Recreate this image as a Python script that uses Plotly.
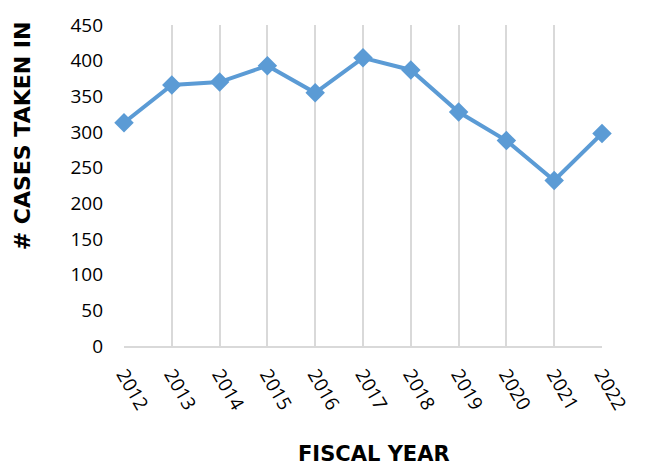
import plotly.graph_objects as go

# Cases taken in per fiscal year
years = ["2012", "2013", "2014", "2015", "2016", "2017", "2018", "2019", "2020", "2021", "2022"]
cases = [313, 366, 370, 393, 355, 404, 387, 328, 288, 232, 298]
y_ticks = [0, 50, 100, 150, 200, 250, 300, 350, 400, 450]

blue = "#5B9BD5"
grid = "#D9D9D9"
tick_font = "Open Sans"
title_font = "DejaVu Sans"

W, H = 652, 472
L, R, T, B = 124, 50, 20, 126
plot_w = W - L - R
plot_h = H - T - B

fig = go.Figure()
fig.add_trace(go.Scatter(
    x=list(range(len(years))),
    y=cases,
    mode="lines+markers",
    line=dict(color=blue, width=4),
    marker=dict(symbol="diamond", size=15, color=blue),
    cliponaxis=False,
    showlegend=False,
))

fig.update_layout(
    width=W, height=H,
    margin=dict(l=L, r=R, t=T, b=B),
    paper_bgcolor="white", plot_bgcolor="white",
    font=dict(family=tick_font, color="black"),
    xaxis=dict(
        tickmode="array",
        tickvals=list(range(len(years))),
        ticktext=years,
        range=[0, len(years) - 1],
        tickangle=60,
        tickfont=dict(size=19),
        showgrid=True, gridcolor=grid, gridwidth=1.5,
        showline=True, linecolor=grid, linewidth=2,
        zeroline=False,
        ticklabelstandoff=8,
    ),
    yaxis=dict(
        tickvals=y_ticks,
        range=[0, 450],
        tickfont=dict(size=19),
        showgrid=False,
        showline=False,
        zeroline=False,
        ticklabelstandoff=20,
    ),
    annotations=[
        dict(text="<b># CASES TAKEN IN</b>", textangle=-90,
             xref="paper", yref="paper",
             x=(22 - L) / plot_w, y=(H - B - 133) / plot_h,
             xanchor="center", yanchor="middle",
             showarrow=False, font=dict(size=22, family=title_font)),
        dict(text="<b>FISCAL YEAR</b>",
             xref="paper", yref="paper",
             x=(374 - L) / plot_w, y=(H - B - 470) / plot_h,
             xanchor="center", yanchor="bottom",
             showarrow=False, font=dict(size=21, family=title_font)),
    ],
)

fig.write_html("out.html")
